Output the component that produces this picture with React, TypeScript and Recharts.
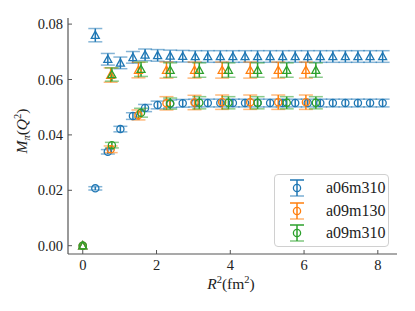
import React from 'react';
import { ComposedChart, Scatter, XAxis, YAxis, ErrorBar, Legend, Label } from 'recharts';

const FONT = '"Liberation Serif", "Times New Roman", serif';

const ensembles = ['a06m310', 'a09m130', 'a09m310'];
const colors = ['#1f77b4', '#ff7f0e', '#2ca02c'];

// a06m310
const blueX = [0, 0.34, 0.68, 1.02, 1.36, 1.69, 2.03, 2.37, 2.71, 3.05, 3.39, 3.73, 4.07, 4.4, 4.74, 5.08, 5.42, 5.76, 6.1, 6.44, 6.78, 7.12, 7.46, 7.79, 8.13];
const blueCircle = [0, 0.0207, 0.0339, 0.0421, 0.0468, 0.0497, 0.0508, 0.0512, 0.0514, 0.0515, 0.0515, 0.0515, 0.0515, 0.0515, 0.0515, 0.0515, 0.0515, 0.0515, 0.0515, 0.0515, 0.0515, 0.0515, 0.0515, 0.0515, 0.0515];
const blueCircleErr = [0, 0.0006, 0.0008, 0.001, 0.0012, 0.0013, 0.0014, 0.0014, 0.0014, 0.0014, 0.0014, 0.0014, 0.0014, 0.0014, 0.0014, 0.0014, 0.0014, 0.0014, 0.0014, 0.0014, 0.0014, 0.0014, 0.0014, 0.0014, 0.0014];
const blueTri = [0, 0.076, 0.0673, 0.066, 0.068, 0.0689, 0.0687, 0.0685, 0.0684, 0.0683, 0.0683, 0.0683, 0.0683, 0.0683, 0.0683, 0.0683, 0.0683, 0.0683, 0.0683, 0.0683, 0.0683, 0.0683, 0.0683, 0.0683, 0.0683];
const blueTriErr = [0, 0.0024, 0.0021, 0.0021, 0.0021, 0.0021, 0.0021, 0.0021, 0.0021, 0.0021, 0.0021, 0.0021, 0.0021, 0.0021, 0.0021, 0.0021, 0.0021, 0.0021, 0.0021, 0.0021, 0.0021, 0.0021, 0.0021, 0.0021, 0.0021];

// a09m130
const orangeX = [0, 0.757, 1.51, 2.27, 3.03, 3.78, 4.54, 5.3, 6.05];
const orangeCircle = [0, 0.0348, 0.0472, 0.0514, 0.0517, 0.0518, 0.0518, 0.0518, 0.0518];
const orangeCircleErr = [0, 0.0012, 0.0018, 0.0024, 0.0026, 0.0026, 0.0026, 0.0026, 0.0026];
const orangeTri = [0, 0.0616, 0.0634, 0.0634, 0.0634, 0.0634, 0.0634, 0.0634, 0.0634];
const orangeTriErr = [0, 0.0026, 0.0028, 0.0029, 0.0029, 0.0029, 0.0029, 0.0029, 0.0029];

// a09m310
const greenX = [0, 0.79, 1.58, 2.37, 3.16, 3.95, 4.74, 5.53, 6.32];
const greenCircle = [0, 0.0363, 0.048, 0.0513, 0.0516, 0.0516, 0.0516, 0.0516, 0.0516];
const greenCircleErr = [0, 0.001, 0.0016, 0.002, 0.0022, 0.0022, 0.0022, 0.0022, 0.0022];
const greenTri = [0, 0.0618, 0.0637, 0.0634, 0.0634, 0.0634, 0.0634, 0.0634, 0.0634];
const greenTriErr = [0, 0.0024, 0.0026, 0.0026, 0.0026, 0.0026, 0.0026, 0.0026, 0.0026];

const xTicks = [0, 2, 4, 6, 8];
const yTicks = [0, 0.02, 0.04, 0.06, 0.08];

const build = (xs: number[], ys: number[], es: number[]) => xs.map((x, i) => ({ x, y: ys[i], e: es[i] }));

const seriesList = [
  { name: ensembles[0], color: colors[0], circle: build(blueX, blueCircle, blueCircleErr), tri: build(blueX, blueTri, blueTriErr) },
  { name: ensembles[1], color: colors[1], circle: build(orangeX, orangeCircle, orangeCircleErr), tri: build(orangeX, orangeTri, orangeTriErr) },
  { name: ensembles[2], color: colors[2], circle: build(greenX, greenCircle, greenCircleErr), tri: build(greenX, greenTri, greenTriErr) },
];

const circleShape = (color: string) => (props: any) => {
  const { cx, cy } = props;
  if (cx == null || cy == null) return <g />;
  return <circle cx={cx} cy={cy} r={3.6} fill="none" stroke={color} strokeWidth={1.3} />;
};

const triShape = (color: string) => (props: any) => {
  const { cx, cy } = props;
  if (cx == null || cy == null) return <g />;
  const s = 4;
  const pts = `${cx},${cy - s} ${cx - s},${cy + s * 0.8} ${cx + s},${cy + s * 0.8}`;
  return <polygon points={pts} fill="none" stroke={color} strokeWidth={1.3} strokeLinejoin="miter" />;
};

const renderLegend = () => (
  <div
    style={{
      width: 113,
      height: 71,
      border: '1px solid #d0d0d0',
      borderRadius: 4,
      background: 'rgba(255,255,255,0.85)',
      position: 'relative',
      fontFamily: FONT,
      fontSize: 16,
      color: '#222',
    }}
  >
    {seriesList.map((s, i) => (
      <div key={s.name} style={{ position: 'absolute', left: 0, top: 4 + i * 22.5, height: 18, width: 113 }}>
        <svg width={20} height={18} style={{ position: 'absolute', left: 12, top: 0 }}>
          <line x1={10} y1={1} x2={10} y2={17} stroke={s.color} strokeWidth={1.5} />
          <line x1={3} y1={1} x2={17} y2={1} stroke={s.color} strokeWidth={1.5} />
          <line x1={3} y1={17} x2={17} y2={17} stroke={s.color} strokeWidth={1.5} strokeOpacity={0.6} />
          <circle cx={10} cy={9} r={3.6} fill="none" stroke={s.color} strokeWidth={1.3} />
        </svg>
        <span style={{ position: 'absolute', left: 51, top: 0, lineHeight: '18px', whiteSpace: 'nowrap' }}>{s.name}</span>
      </div>
    ))}
  </div>
);

const axisStroke = '#555';
const tickStyle = { fill: '#222', fontSize: 14.5, fontFamily: FONT };

export default function App() {
  return (
    <div style={{ position: 'absolute', left: 0, top: 0, width: 415, height: 311, background: '#fff' }}>
      <style>{`.recharts-errorBar line:nth-of-type(odd){stroke-opacity:0.55}`}</style>
      <ComposedChart width={415} height={311} margin={{ top: 18, right: 18, bottom: 17, left: 8 }}>
        <XAxis
          xAxisId="b"
          type="number"
          dataKey="x"
          domain={[-0.4, 8.52]}
          ticks={xTicks}
          allowDataOverflow
          height={40}
          tickSize={-4}
          tickMargin={10}
          axisLine={{ stroke: axisStroke, strokeWidth: 1.2 }}
          tickLine={{ stroke: axisStroke }}
          tick={tickStyle}
        >
          <Label
            content={() => (
              <text x={231} y={289} textAnchor="middle" fontFamily={FONT} fontSize={15.5} fill="#222">
                <tspan fontStyle="italic">R</tspan>
                <tspan fontSize={10.5} dy={-6}>2</tspan>
                <tspan dy={6}>(fm</tspan>
                <tspan fontSize={10.5} dy={-6}>2</tspan>
                <tspan dy={6}>)</tspan>
              </text>
            )}
          />
        </XAxis>
        <XAxis
          xAxisId="t"
          orientation="top"
          type="number"
          domain={[-0.4, 8.52]}
          allowDataOverflow
          mirror
          height={0}
          tick={false}
          tickLine={false}
          axisLine={{ stroke: axisStroke, strokeWidth: 1.2 }}
        />
        <YAxis
          yAxisId="l"
          type="number"
          domain={[-0.003, 0.0822]}
          ticks={yTicks}
          allowDataOverflow
          width={60}
          tickSize={-4}
          tickMargin={9}
          tickFormatter={(v: number) => v.toFixed(2)}
          axisLine={{ stroke: axisStroke, strokeWidth: 1.2 }}
          tickLine={{ stroke: axisStroke }}
          tick={tickStyle}
        >
          <Label
            content={() => (
              <text x={27} y={131} transform="rotate(-90, 27, 131)" textAnchor="middle" fontFamily={FONT} fontSize={15.5} fill="#222">
                <tspan fontStyle="italic">M</tspan>
                <tspan fontStyle="italic" fontSize={10.5} dy={3}>π</tspan>
                <tspan dy={-3}>(</tspan>
                <tspan fontStyle="italic">Q</tspan>
                <tspan fontSize={10.5} dy={-6}>2</tspan>
                <tspan dy={6}>)</tspan>
              </text>
            )}
          />
        </YAxis>
        <YAxis
          yAxisId="r"
          orientation="right"
          type="number"
          domain={[-0.003, 0.0822]}
          allowDataOverflow
          mirror
          width={0}
          tick={false}
          tickLine={false}
          axisLine={{ stroke: '#222', strokeWidth: 1.2 }}
        />
        {seriesList.map((s) => [
          <Scatter
            key={s.name + '-c'}
            name={s.name}
            data={s.circle}
            dataKey="y"
            xAxisId="b"
            yAxisId="l"
            isAnimationActive={false}
            shape={circleShape(s.color)}
          >
            <ErrorBar dataKey="e" direction="y" width={7} stroke={s.color} strokeWidth={1.5} isAnimationActive={false} />
          </Scatter>,
          <Scatter
            key={s.name + '-t'}
            name={s.name + ' tri'}
            data={s.tri}
            dataKey="y"
            xAxisId="b"
            yAxisId="l"
            legendType="none"
            isAnimationActive={false}
            shape={triShape(s.color)}
          >
            <ErrorBar dataKey="e" direction="y" width={7} stroke={s.color} strokeWidth={1.5} isAnimationActive={false} />
          </Scatter>,
        ])}
        <Legend
          layout="vertical"
          align="center"
          verticalAlign="middle"
          content={renderLegend}
          wrapperStyle={{ left: 274, top: 174, width: 115, height: 73 }}
        />
      </ComposedChart>
    </div>
  );
}
